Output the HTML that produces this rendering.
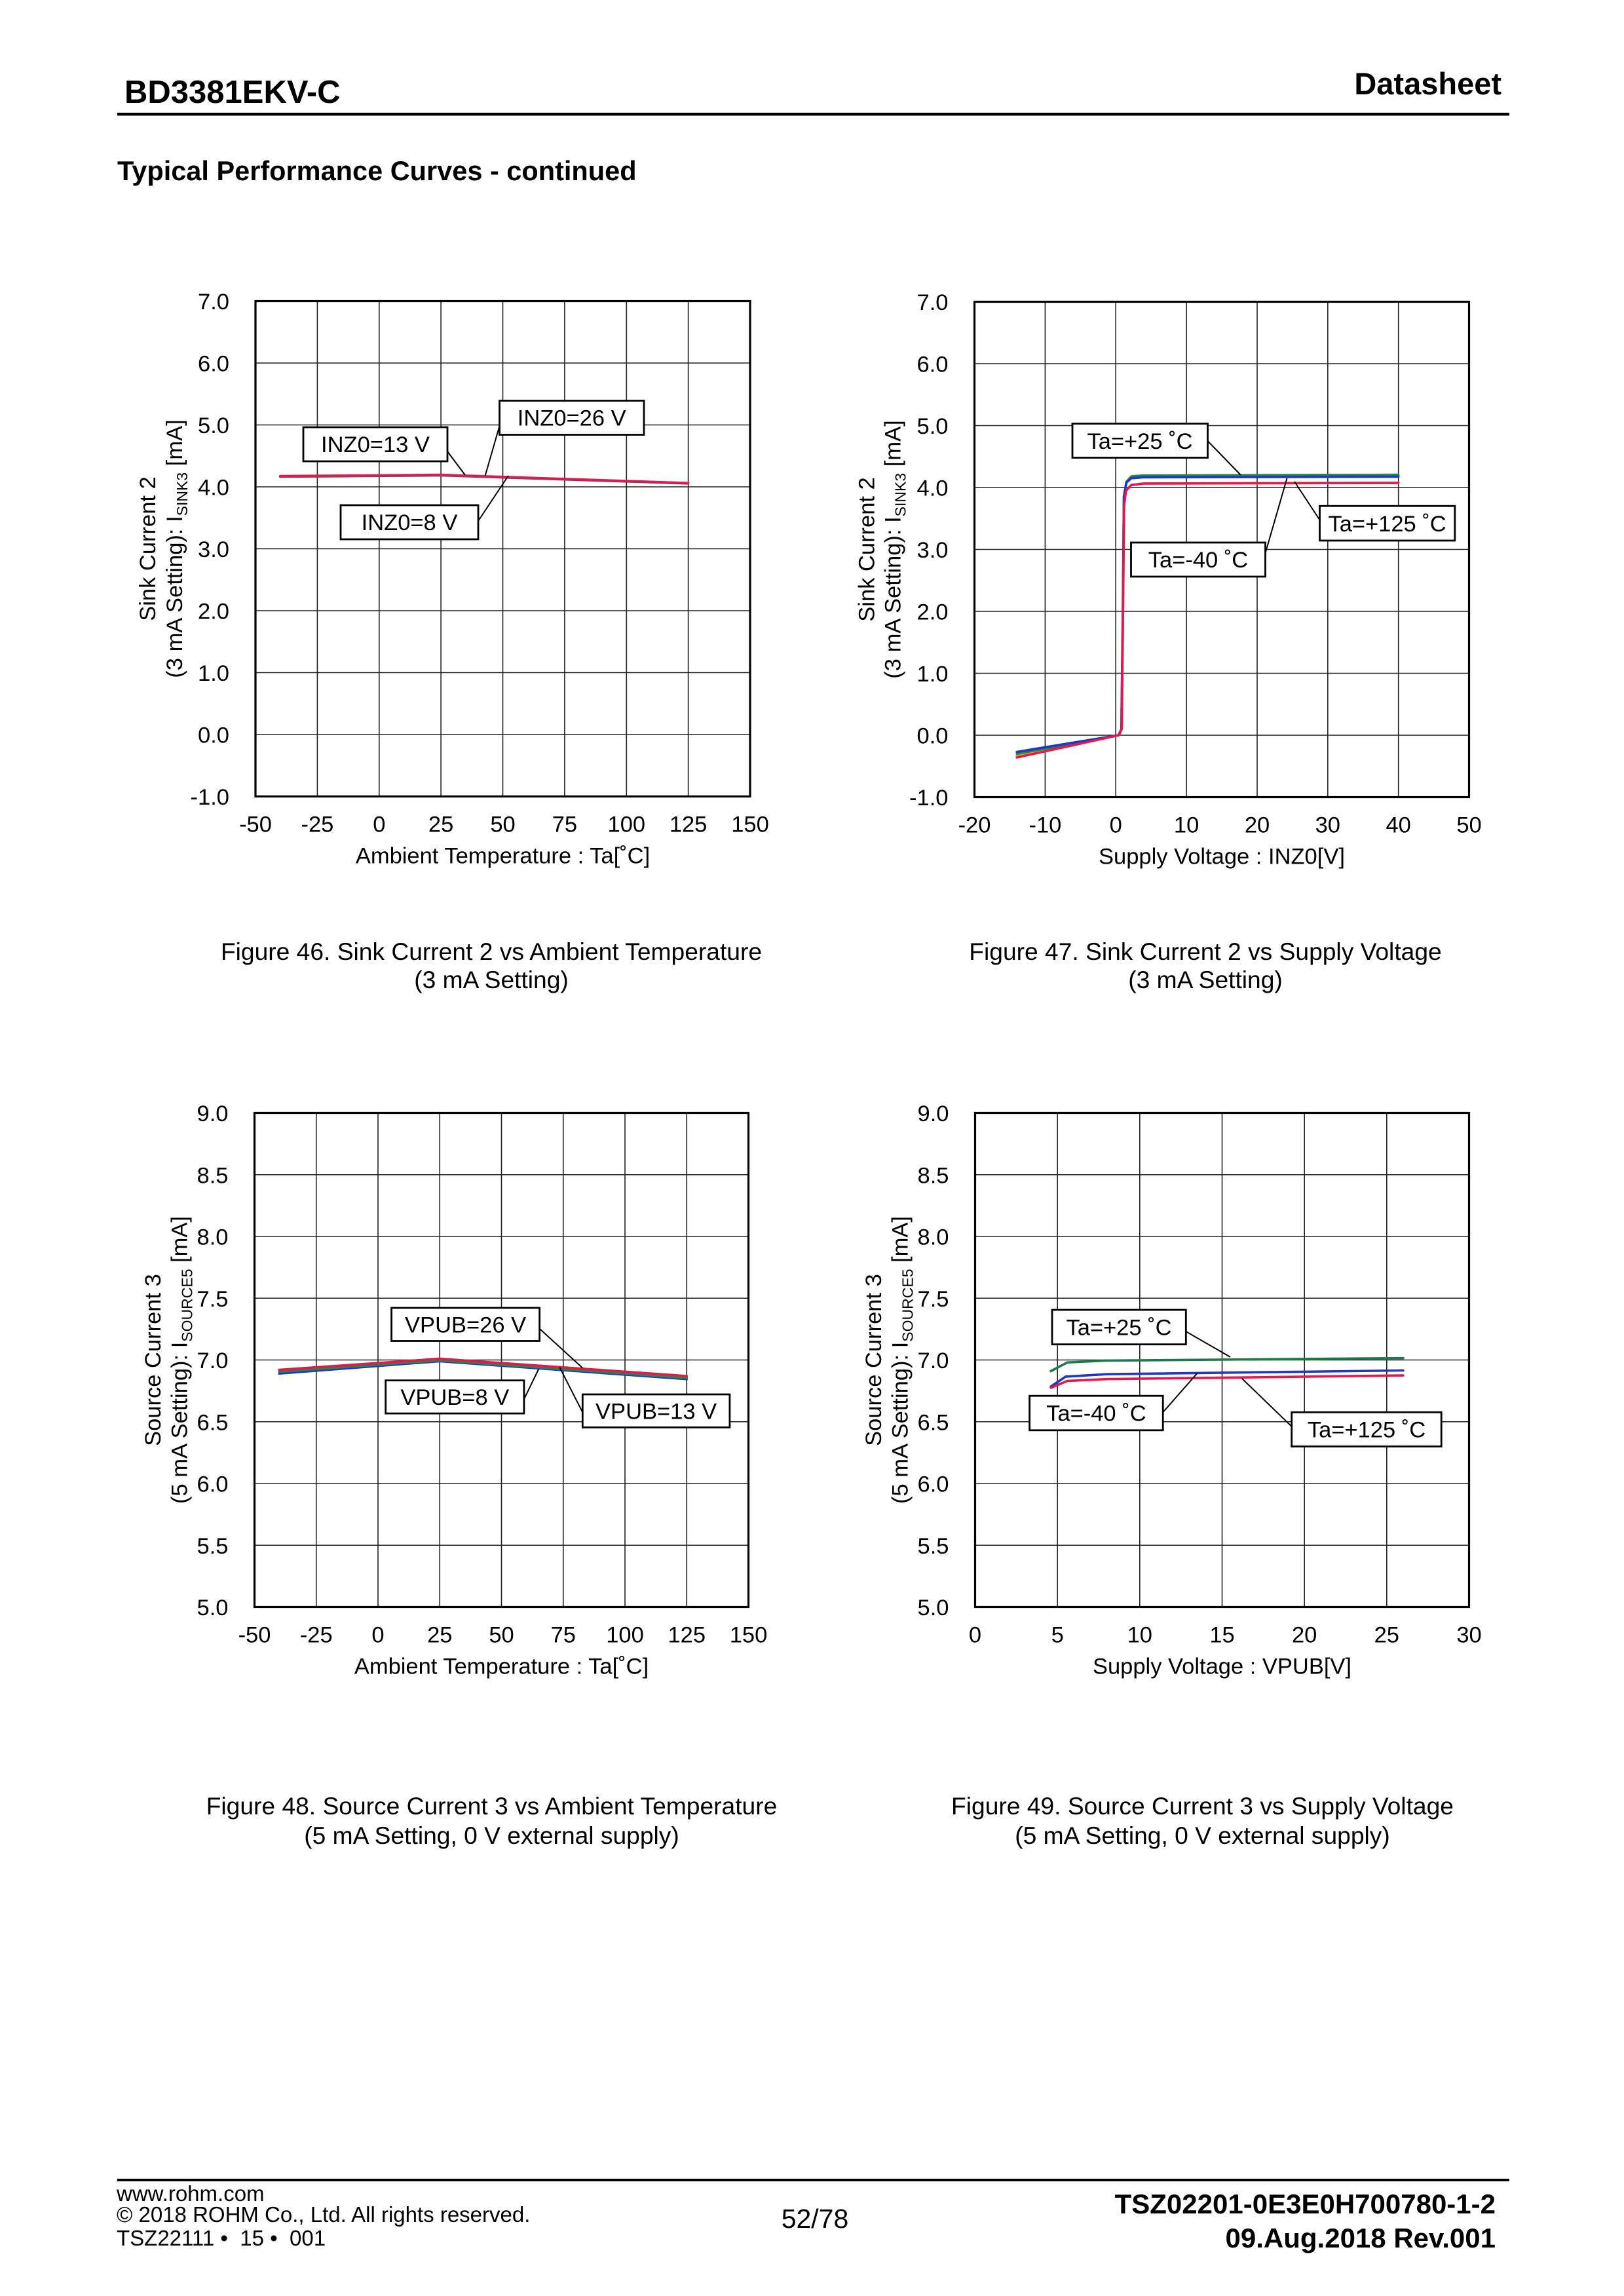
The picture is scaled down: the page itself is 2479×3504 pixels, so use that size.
<!DOCTYPE html>
<html><head><meta charset="utf-8"><style>
html,body{margin:0;padding:0;background:#fff;}
svg{display:block;}
text{font-family:"Liberation Sans",Arial,sans-serif;fill:#000;}
.t{font-size:34.5px;}
.e{text-anchor:end;}
.m{text-anchor:middle;}
.cap{font-size:37.2px;text-anchor:middle;}
.g{stroke:#222;stroke-width:1.6;}
.f{fill:none;stroke:#000;stroke-width:3.2;}
.bx{fill:#fff;stroke:#000;stroke-width:2.8;}
.ld{stroke:#000;stroke-width:2;}
.c{fill:none;stroke-width:3.6;stroke-linejoin:round;stroke-linecap:round;}
</style></head><body>
<svg width="2479" height="3504" viewBox="0 0 2479 3504" xmlns="http://www.w3.org/2000/svg">
<rect width="2479" height="3504" fill="#fff"/>

<!-- Header -->
<text x="190" y="157" style="font-size:49px;font-weight:bold">BD3381EKV-C</text>
<text x="2292" y="144" class="e" style="font-size:47px;font-weight:bold">Datasheet</text>
<rect x="179" y="172" width="2125" height="4.5" fill="#000"/>
<text x="179" y="275" style="font-size:41.5px;font-weight:bold">Typical Performance Curves - continued</text>

<!-- ================= FIG 46 ================= -->
<g>
<g class="g">
<line x1="484.4" y1="459.5" x2="484.4" y2="1215.5"/><line x1="578.8" y1="459.5" x2="578.8" y2="1215.5"/>
<line x1="673.1" y1="459.5" x2="673.1" y2="1215.5"/><line x1="767.5" y1="459.5" x2="767.5" y2="1215.5"/>
<line x1="861.9" y1="459.5" x2="861.9" y2="1215.5"/><line x1="956.3" y1="459.5" x2="956.3" y2="1215.5"/>
<line x1="1050.6" y1="459.5" x2="1050.6" y2="1215.5"/>
<line x1="390" y1="554" x2="1145" y2="554"/><line x1="390" y1="648.5" x2="1145" y2="648.5"/>
<line x1="390" y1="743" x2="1145" y2="743"/><line x1="390" y1="837.5" x2="1145" y2="837.5"/>
<line x1="390" y1="932" x2="1145" y2="932"/><line x1="390" y1="1026.5" x2="1145" y2="1026.5"/>
<line x1="390" y1="1121" x2="1145" y2="1121"/>
</g>
<rect x="390" y="459.5" width="755" height="756" class="f"/>
<polyline class="c" stroke="#2036c8" points="427.75,727.4 673.1,725.5 1050.6,737.8"/>
<polyline class="c" stroke="#1e8a45" points="427.75,726.9 673.1,725.0 1050.6,737.3"/>
<polyline class="c" stroke="#e8164a" points="427.75,726.5 673.1,724.6 1050.6,737.3"/>
<line class="ld" x1="683" y1="689" x2="710" y2="725"/>
<line class="ld" x1="762.5" y1="650" x2="740.6" y2="726"/>
<line class="ld" x1="730" y1="795" x2="776" y2="726"/>
<rect class="bx" x="463" y="652" width="220" height="52"/>
<text class="t m" x="573" y="690">INZ0=13 V</text>
<rect class="bx" x="762.5" y="611.5" width="220.5" height="52"/>
<text class="t m" x="872.7" y="649.5">INZ0=26 V</text>
<rect class="bx" x="520" y="771" width="210" height="52"/>
<text class="t m" x="625" y="809">INZ0=8 V</text>
<g class="t e">
<text x="350" y="472">7.0</text><text x="350" y="566.5">6.0</text><text x="350" y="661">5.0</text>
<text x="350" y="755.5">4.0</text><text x="350" y="850">3.0</text><text x="350" y="944.5">2.0</text>
<text x="350" y="1039">1.0</text><text x="350" y="1133.5">0.0</text><text x="350" y="1228">-1.0</text>
</g>
<g class="t m">
<text x="390" y="1269.5">-50</text><text x="484.4" y="1269.5">-25</text><text x="578.8" y="1269.5">0</text>
<text x="673.1" y="1269.5">25</text><text x="767.5" y="1269.5">50</text><text x="861.9" y="1269.5">75</text>
<text x="956.3" y="1269.5">100</text><text x="1050.6" y="1269.5">125</text><text x="1145" y="1269.5">150</text>
<text x="767.5" y="1317.5">Ambient Temperature : Ta[˚C]</text>
</g>
<text class="t m" x="237" y="837.5" transform="rotate(-90 237 837.5)">Sink Current 2</text>
<text class="t m" x="278" y="837.5" transform="rotate(-90 278 837.5)">(3 mA Setting): I<tspan dy="8" style="font-size:23px">SINK3</tspan><tspan dy="-8"> [mA]</tspan></text>
<text class="cap" x="750" y="1465">Figure 46. Sink Current 2 vs Ambient Temperature</text>
<text class="cap" x="750" y="1508">(3 mA Setting)</text>
</g>

<!-- ================= FIG 47 ================= -->
<g>
<g class="g">
<line x1="1595.4" y1="460.5" x2="1595.4" y2="1216.5"/><line x1="1703.2" y1="460.5" x2="1703.2" y2="1216.5"/>
<line x1="1811.1" y1="460.5" x2="1811.1" y2="1216.5"/><line x1="1919" y1="460.5" x2="1919" y2="1216.5"/>
<line x1="2026.8" y1="460.5" x2="2026.8" y2="1216.5"/><line x1="2134.7" y1="460.5" x2="2134.7" y2="1216.5"/>
<line x1="1487.5" y1="555" x2="2242.5" y2="555"/><line x1="1487.5" y1="649.5" x2="2242.5" y2="649.5"/>
<line x1="1487.5" y1="744" x2="2242.5" y2="744"/><line x1="1487.5" y1="838.5" x2="2242.5" y2="838.5"/>
<line x1="1487.5" y1="933" x2="2242.5" y2="933"/><line x1="1487.5" y1="1027.5" x2="2242.5" y2="1027.5"/>
<line x1="1487.5" y1="1122" x2="2242.5" y2="1122"/>
</g>
<rect x="1487.5" y="460.5" width="755" height="756" class="f"/>
<polyline class="c" stroke="#e8a020" points="1552.2,1153.2 1708,1122 1712.3,1112.6 1714.3,933 1715.8,772.4 1718.8,748.7 1727,740.2 1746,738 2134.7,737"/>
<polyline class="c" stroke="#1e8a45" points="1552.2,1150.4 1707.5,1122 1711.8,1112.6 1714,933 1715.6,758 1719.4,735.4 1727,727 1745,725.6 2134.7,724.6"/>
<polyline class="c" stroke="#2036c8" points="1552.2,1147.5 1707.5,1122 1711.8,1112.6 1714,933 1715.6,758.2 1719.4,736.4 1727,729.8 1745,728.4 2134.7,727.5"/>
<polyline class="c" stroke="#e8164a" points="1552.2,1156 1708,1122 1712.3,1112.6 1714.3,933 1715.8,772.4 1718.8,748.7 1727,740.2 1746,737.9 2134.7,736.9"/>
<line class="ld" x1="1843.5" y1="673" x2="1894" y2="725"/>
<line class="ld" x1="2014.5" y1="793.5" x2="1976" y2="735"/>
<line class="ld" x1="1931.3" y1="845" x2="1964.5" y2="730"/>
<rect class="bx" x="1637" y="646.5" width="206.5" height="52"/>
<text class="t m" x="1740" y="685">Ta=+25 ˚C</text>
<rect class="bx" x="2014.5" y="772.2" width="206.3" height="52.8"/>
<text class="t m" x="2117.6" y="811">Ta=+125 ˚C</text>
<rect class="bx" x="1726.5" y="828" width="205" height="52"/>
<text class="t m" x="1829" y="866">Ta=-40 ˚C</text>
<g class="t e">
<text x="1447.5" y="473">7.0</text><text x="1447.5" y="567.5">6.0</text><text x="1447.5" y="662">5.0</text>
<text x="1447.5" y="756.5">4.0</text><text x="1447.5" y="851">3.0</text><text x="1447.5" y="945.5">2.0</text>
<text x="1447.5" y="1040">1.0</text><text x="1447.5" y="1134.5">0.0</text><text x="1447.5" y="1229">-1.0</text>
</g>
<g class="t m">
<text x="1487.5" y="1270.5">-20</text><text x="1595.4" y="1270.5">-10</text><text x="1703.2" y="1270.5">0</text>
<text x="1811.1" y="1270.5">10</text><text x="1919" y="1270.5">20</text><text x="2026.8" y="1270.5">30</text>
<text x="2134.7" y="1270.5">40</text><text x="2242.5" y="1270.5">50</text>
<text x="1865" y="1318.5">Supply Voltage : INZ0[V]</text>
</g>
<text class="t m" x="1334.5" y="838.5" transform="rotate(-90 1334.5 838.5)">Sink Current 2</text>
<text class="t m" x="1374.5" y="838.5" transform="rotate(-90 1374.5 838.5)">(3 mA Setting): I<tspan dy="8" style="font-size:23px">SINK3</tspan><tspan dy="-8"> [mA]</tspan></text>
<text class="cap" x="1840" y="1465">Figure 47. Sink Current 2 vs Supply Voltage</text>
<text class="cap" x="1840" y="1508">(3 mA Setting)</text>
</g>

<!-- ================= FIG 48 ================= -->
<g>
<g class="g">
<line x1="482.75" y1="1698.5" x2="482.75" y2="2452.5"/><line x1="577" y1="1698.5" x2="577" y2="2452.5"/>
<line x1="671.25" y1="1698.5" x2="671.25" y2="2452.5"/><line x1="765.5" y1="1698.5" x2="765.5" y2="2452.5"/>
<line x1="859.75" y1="1698.5" x2="859.75" y2="2452.5"/><line x1="954" y1="1698.5" x2="954" y2="2452.5"/>
<line x1="1048.25" y1="1698.5" x2="1048.25" y2="2452.5"/>
<line x1="388.5" y1="1792.75" x2="1142.5" y2="1792.75"/><line x1="388.5" y1="1887" x2="1142.5" y2="1887"/>
<line x1="388.5" y1="1981.25" x2="1142.5" y2="1981.25"/><line x1="388.5" y1="2075.5" x2="1142.5" y2="2075.5"/>
<line x1="388.5" y1="2169.75" x2="1142.5" y2="2169.75"/><line x1="388.5" y1="2264" x2="1142.5" y2="2264"/>
<line x1="388.5" y1="2358.25" x2="1142.5" y2="2358.25"/>
</g>
<rect x="388.5" y="1698.5" width="754" height="754" class="f"/>
<polyline class="c" stroke="#2036c8" points="426.2,2096.2 671.25,2077.4 1048.25,2104.7"/>
<polyline class="c" stroke="#1e8a45" points="426.2,2093.4 671.25,2076.1 1048.25,2102.8"/>
<polyline class="c" stroke="#e8164a" points="426.2,2090.6 671.25,2073.6 1048.25,2100"/>
<line class="ld" x1="823.5" y1="2027.6" x2="889.3" y2="2087.8"/>
<line class="ld" x1="799.9" y1="2135.3" x2="822.2" y2="2089.5"/>
<line class="ld" x1="889.3" y1="2155.3" x2="854.2" y2="2086.6"/>
<rect class="bx" x="597.6" y="1996" width="226" height="50.5"/>
<text class="t m" x="710.6" y="2033.5">VPUB=26 V</text>
<rect class="bx" x="588.7" y="2106.7" width="211.2" height="50.4"/>
<text class="t m" x="694.3" y="2144">VPUB=8 V</text>
<rect class="bx" x="889.3" y="2128" width="224.6" height="50.4"/>
<text class="t m" x="1001.6" y="2165.5">VPUB=13 V</text>
<g class="t e">
<text x="348.5" y="1711">9.0</text><text x="348.5" y="1805.25">8.5</text><text x="348.5" y="1899.5">8.0</text>
<text x="348.5" y="1993.75">7.5</text><text x="348.5" y="2088">7.0</text><text x="348.5" y="2182.25">6.5</text>
<text x="348.5" y="2276.5">6.0</text><text x="348.5" y="2370.75">5.5</text><text x="348.5" y="2465">5.0</text>
</g>
<g class="t m">
<text x="388.5" y="2506.5">-50</text><text x="482.75" y="2506.5">-25</text><text x="577" y="2506.5">0</text>
<text x="671.25" y="2506.5">25</text><text x="765.5" y="2506.5">50</text><text x="859.75" y="2506.5">75</text>
<text x="954" y="2506.5">100</text><text x="1048.25" y="2506.5">125</text><text x="1142.5" y="2506.5">150</text>
<text x="765.5" y="2554.5">Ambient Temperature : Ta[˚C]</text>
</g>
<text class="t m" x="245" y="2075.5" transform="rotate(-90 245 2075.5)">Source Current 3</text>
<text class="t m" x="285.5" y="2075.5" transform="rotate(-90 285.5 2075.5)">(5 mA Setting): I<tspan dy="8" style="font-size:23px">SOURCE5</tspan><tspan dy="-8"> [mA]</tspan></text>
<text class="cap" x="750.5" y="2769">Figure 48. Source Current 3 vs Ambient Temperature</text>
<text class="cap" x="750.5" y="2814">(5 mA Setting, 0 V external supply)</text>
</g>

<!-- ================= FIG 49 ================= -->
<g>
<g class="g">
<line x1="1614.2" y1="1698.5" x2="1614.2" y2="2452.5"/><line x1="1739.8" y1="1698.5" x2="1739.8" y2="2452.5"/>
<line x1="1865.5" y1="1698.5" x2="1865.5" y2="2452.5"/><line x1="1991.2" y1="1698.5" x2="1991.2" y2="2452.5"/>
<line x1="2116.8" y1="1698.5" x2="2116.8" y2="2452.5"/>
<line x1="1488.5" y1="1792.75" x2="2242.5" y2="1792.75"/><line x1="1488.5" y1="1887" x2="2242.5" y2="1887"/>
<line x1="1488.5" y1="1981.25" x2="2242.5" y2="1981.25"/><line x1="1488.5" y1="2075.5" x2="2242.5" y2="2075.5"/>
<line x1="1488.5" y1="2169.75" x2="2242.5" y2="2169.75"/><line x1="1488.5" y1="2264" x2="2242.5" y2="2264"/>
<line x1="1488.5" y1="2358.25" x2="2242.5" y2="2358.25"/>
</g>
<rect x="1488.5" y="1698.5" width="754" height="754" class="f"/>
<polyline class="c" stroke="#1e7a4a" points="1604.1,2092.5 1629.2,2079.3 1689.6,2076.4 2142,2072.7"/>
<polyline class="c" stroke="#2036c8" points="1604.1,2116 1626.7,2100.9 1689.6,2097.2 2142,2091.5"/>
<polyline class="c" stroke="#e8164a" points="1604.1,2117.9 1629.2,2107.5 1689.6,2104.7 2142,2099.1"/>
<line class="ld" x1="1810.3" y1="2032" x2="1878" y2="2071"/>
<line class="ld" x1="1775.2" y1="2155.3" x2="1827.5" y2="2095.8"/>
<line class="ld" x1="1971.7" y1="2177" x2="1895.8" y2="2103.8"/>
<rect class="bx" x="1606" y="1999" width="204.3" height="52.7"/>
<text class="t m" x="1708" y="2037.5">Ta=+25 ˚C</text>
<rect class="bx" x="1571.6" y="2130.2" width="203.6" height="52.6"/>
<text class="t m" x="1673.4" y="2168.5">Ta=-40 ˚C</text>
<rect class="bx" x="1971.7" y="2155.3" width="228.5" height="52.2"/>
<text class="t m" x="2086" y="2193.5">Ta=+125 ˚C</text>
<g class="t e">
<text x="1448.5" y="1711">9.0</text><text x="1448.5" y="1805.25">8.5</text><text x="1448.5" y="1899.5">8.0</text>
<text x="1448.5" y="1993.75">7.5</text><text x="1448.5" y="2088">7.0</text><text x="1448.5" y="2182.25">6.5</text>
<text x="1448.5" y="2276.5">6.0</text><text x="1448.5" y="2370.75">5.5</text><text x="1448.5" y="2465">5.0</text>
</g>
<g class="t m">
<text x="1488.5" y="2506.5">0</text><text x="1614.2" y="2506.5">5</text><text x="1739.8" y="2506.5">10</text>
<text x="1865.5" y="2506.5">15</text><text x="1991.2" y="2506.5">20</text><text x="2116.8" y="2506.5">25</text>
<text x="2242.5" y="2506.5">30</text>
<text x="1865.5" y="2554.5">Supply Voltage : VPUB[V]</text>
</g>
<text class="t m" x="1345" y="2075.5" transform="rotate(-90 1345 2075.5)">Source Current 3</text>
<text class="t m" x="1385.5" y="2075.5" transform="rotate(-90 1385.5 2075.5)">(5 mA Setting): I<tspan dy="8" style="font-size:23px">SOURCE5</tspan><tspan dy="-8"> [mA]</tspan></text>
<text class="cap" x="1835.5" y="2769">Figure 49. Source Current 3 vs Supply Voltage</text>
<text class="cap" x="1835.5" y="2814">(5 mA Setting, 0 V external supply)</text>
</g>

<!-- Footer -->
<rect x="179" y="3325" width="2125" height="4" fill="#000"/>
<text x="178" y="3359" style="font-size:33px">www.rohm.com</text>
<text x="178" y="3391" style="font-size:33px">© 2018 ROHM Co., Ltd. All rights reserved.</text>
<text x="178" y="3427" style="font-size:33px">TSZ22111&#160;•&#160;&#160;15&#160;•&#160;&#160;001</text>
<text x="1244" y="3400" class="m" style="font-size:41px">52/78</text>
<text x="2283" y="3378" class="e" style="font-size:42px;font-weight:bold">TSZ02201-0E3E0H700780-1-2</text>
<text x="2283" y="3430" class="e" style="font-size:42px;font-weight:bold">09.Aug.2018 Rev.001</text>
</svg>
</body></html>
